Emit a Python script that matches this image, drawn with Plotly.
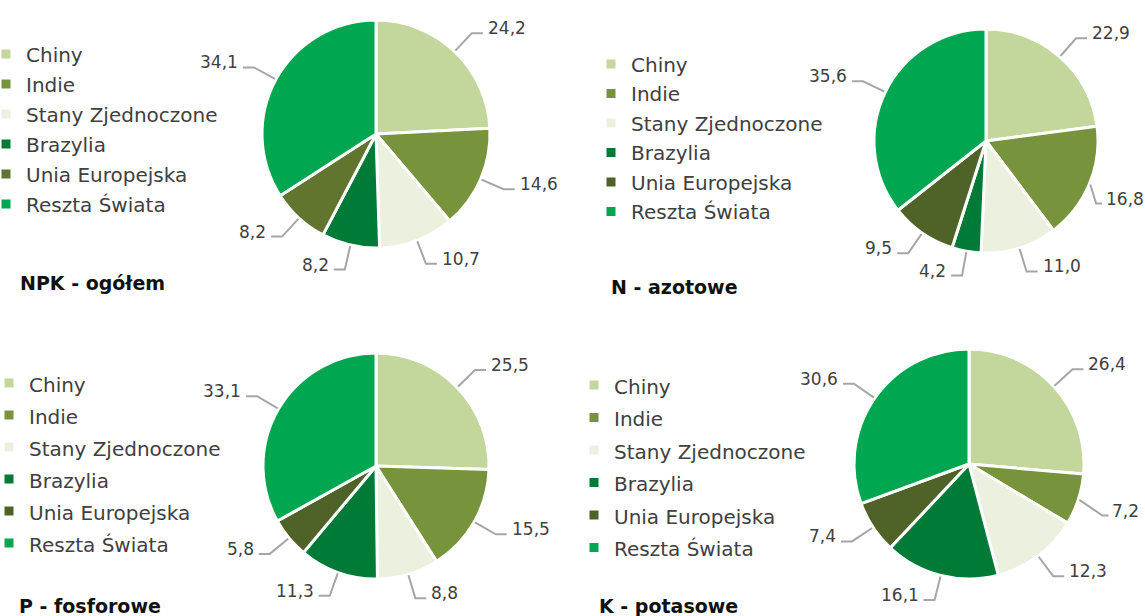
import math
import plotly.graph_objects as go

W, H = 1145, 616

# ---- data ----
categories = ["Chiny", "Indie", "Stany Zjednoczone", "Brazylia", "Unia Europejska", "Reszta Świata"]
npk_ogolem = [24.2, 14.6, 10.7, 8.2, 8.2, 34.1]
n_azotowe = [22.9, 16.8, 11.0, 4.2, 9.5, 35.6]
p_fosforowe = [25.5, 15.5, 8.8, 11.3, 5.8, 33.1]
k_potasowe = [26.4, 7.2, 12.3, 16.1, 7.4, 30.6]
titles = ["NPK - ogółem", "N - azotowe", "P - fosforowe", "K - potasowe"]
series = [npk_ogolem, n_azotowe, p_fosforowe, k_potasowe]

# ---- styles ----
base_colors = ["#C3D69B", "#77933C", "#EBF1DE", "#007A37", "#4F6228", "#00A650"]
npk_colors = ["#C3D69B", "#77933C", "#EBF1DE", "#007A37", "#62752F", "#00A650"]
panel_colors = [npk_colors, base_colors, base_colors, base_colors]

# pixel layout of each panel: pie centre/radius, legend text-left / first-row centre / row step, title
panels = [
    dict(cx=376, cy=134, r=114, lx=26, ly=55, step=30, tx=18, ty=283),
    dict(cx=986, cy=141, r=112, lx=631, ly=65, step=29.5, tx=609, ty=287),
    dict(cx=376, cy=466, r=113, lx=29, ly=384, step=32, tx=17, ty=606),
    dict(cx=969, cy=464, r=115, lx=614, ly=386, step=32.5, tx=597, ty=606),
]

FONT = "DejaVu Sans"
TEXT_COLOR = "#404040"
LINE_COLOR = "#A6A6A6"
LABEL_SIZE = 17


def px(x):
    return x / W


def py(y):
    return 1 - y / H


def text_width(s, size):
    return sum((0.318 if ch == "," else 0.636) for ch in s) * size


fig = go.Figure()
shapes = []
annotations = []

for i, (vals, title, pan, cols) in enumerate(zip(series, titles, panels, panel_colors)):
    cx, cy, r = pan["cx"], pan["cy"], pan["r"]
    legend_id = "legend" if i == 0 else f"legend{i + 1}"
    # zero-width spaces keep each chart's legend entries distinct
    labels = [f'<span style="font-size:20px">{c}{chr(0x200b) * i}</span>' for c in categories]
    fig.add_trace(go.Pie(
        labels=labels,
        values=vals,
        sort=False,
        direction="clockwise",
        rotation=0,
        textinfo="none",
        hoverinfo="skip",
        marker=dict(colors=cols, line=dict(color="white", width=3)),
        domain=dict(x=[px(cx - r), px(cx + r)], y=[py(cy + r), py(cy - r)]),
        legend=legend_id,
        showlegend=True,
    ))

    legfs = (pan["step"] - 3) / 1.3
    fig.layout[legend_id] = dict(
        x=px(pan["lx"] - 40), xanchor="left",
        y=py(pan["ly"] - 5 - pan["step"] / 2 - 1), yanchor="top",
        bgcolor="rgba(0,0,0,0)",
        font=dict(family=FONT, size=legfs, color=TEXT_COLOR),
        traceorder="normal",
    )

    # data labels with elbow leader lines, derived from the values
    total = sum(vals)
    cum = 0.0
    for v in vals:
        mid = (cum + v / 2) / total * 2 * math.pi
        cum += v
        txt = f"{v:.1f}".replace(".", ",")
        tw = text_width(txt, LABEL_SIZE)
        sx, sy = math.sin(mid), -math.cos(mid)
        x0, y0 = cx + (r + 1) * sx, cy + (r + 1) * sy
        x1, y1 = cx + r * 1.22 * sx, cy + r * 1.22 * sy
        side = 1 if sx >= 0 else -1
        tail, gap = 11, 3
        if side > 0 and x1 + tail + gap + tw > W - 3:
            tail, gap = 6, 2
            x1 = min(x1, W - 3 - tw - gap - tail)
            y1 = cy + r * 1.45 * sy
        x2 = x1 + side * tail
        shapes.append(dict(
            type="path", xref="paper", yref="paper",
            path=f"M {px(x0)},{py(y0)} L {px(x1)},{py(y1)} L {px(x2)},{py(y1)}",
            line=dict(color=LINE_COLOR, width=2),
        ))
        annotations.append(dict(
            x=px(x2 + side * gap), y=py(y1 - 5), xref="paper", yref="paper",
            xanchor="left" if side > 0 else "right", yanchor="middle",
            text=txt, showarrow=False,
            font=dict(family=FONT, size=LABEL_SIZE, color=TEXT_COLOR),
        ))

    annotations.append(dict(
        x=px(pan["tx"]), y=py(pan["ty"]), xref="paper", yref="paper",
        xanchor="left", yanchor="middle", text=f"<b>{title}</b>", showarrow=False,
        font=dict(family=FONT, size=19, color="#111111"),
    ))

fig.update_layout(
    width=W, height=H,
    margin=dict(l=0, r=0, t=0, b=0, autoexpand=False),
    paper_bgcolor="white", plot_bgcolor="white",
    shapes=shapes, annotations=annotations,
    font=dict(family=FONT, color=TEXT_COLOR),
)

fig.write_html(
    "out.html",
    config={"displayModeBar": False},
    post_script="document.body.style.margin='0px';",
)
